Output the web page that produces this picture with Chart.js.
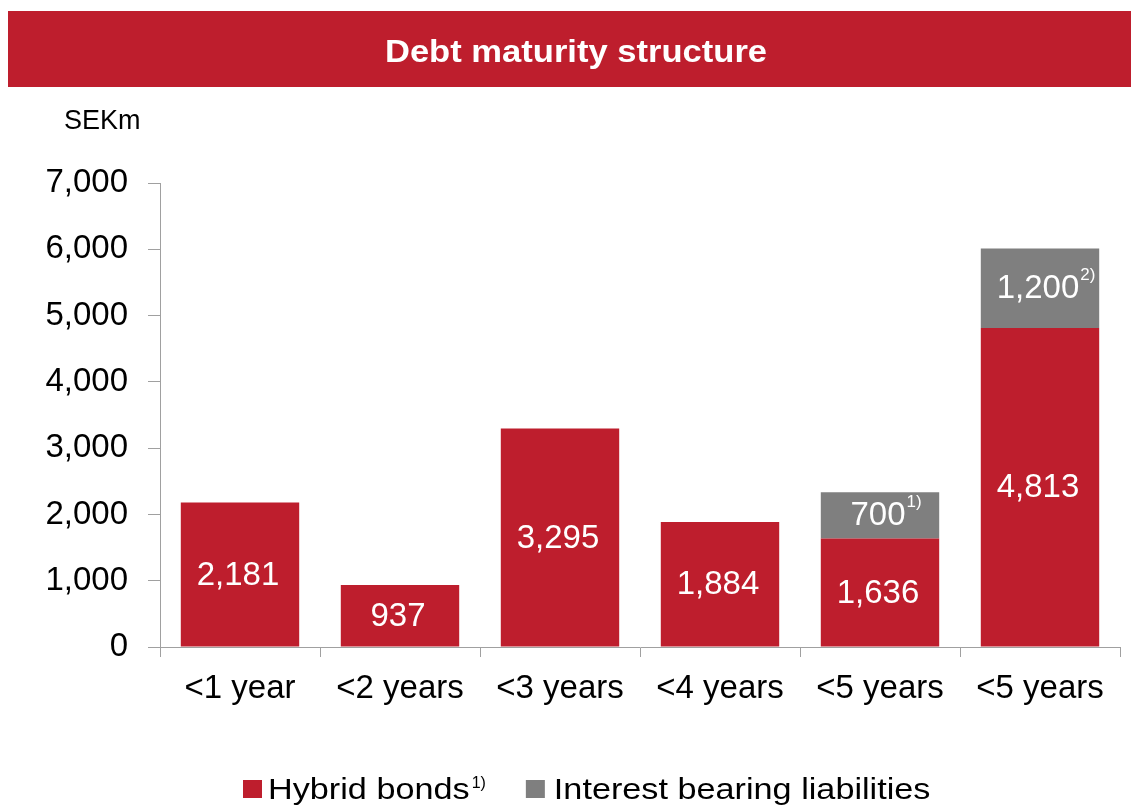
<!DOCTYPE html>
<html>
<head>
<meta charset="utf-8">
<script src="https://cdn.jsdelivr.net/npm/chart.js@4"></script>
<style>
  html, body { margin: 0; padding: 0; background: #ffffff; }
  #wrap { position: relative; width: 1131px; height: 805px; }
</style>
</head>
<body>
<div id="wrap"><canvas id="c" width="1131" height="805"></canvas></div>
<script>
// Debt maturity structure, SEKm
const chartTitle = 'Debt maturity structure';
const unitLabel = 'SEKm';
const categories = ['<1 year', '<2 years', '<3 years', '<4 years', '<5 years', '<5 years'];
const hybridBonds = [2181, 937, 3295, 1884, 1636, 4813];
const interestBearing = [null, null, null, null, 700, 1200];
const hybridNotes = [null, null, null, null, null, null];
const interestNotes = [null, null, null, null, '1)', '2)'];
const yTickValues = [0, 1000, 2000, 3000, 4000, 5000, 6000, 7000];
const seriesNames = ['Hybrid bonds', 'Interest bearing liabilities'];
const seriesNotes = ['1)', null];

const RED = '#BE1E2D';
const GREY = '#7F7F7F';
const AXIS = '#A0A0A0';
const FONT = '"Liberation Sans", Arial, Helvetica, sans-serif';

// Red title band across the top, plus the unit caption above the axis
const headerPlugin = {
  id: 'header',
  beforeDraw(chart) {
    const ctx = chart.ctx;
    ctx.save();
    ctx.fillStyle = RED;
    ctx.fillRect(8, 11, 1123, 76);
    ctx.fillStyle = '#ffffff';
    ctx.font = 'bold 32px ' + FONT;
    ctx.textAlign = 'center';
    ctx.textBaseline = 'alphabetic';
    ctx.translate(576, 62);
    ctx.scale(1.08, 1);
    ctx.fillText(chartTitle, 0, 0);
    ctx.restore();

    ctx.save();
    ctx.fillStyle = '#000000';
    ctx.font = '27px ' + FONT;
    ctx.textAlign = 'left';
    ctx.textBaseline = 'alphabetic';
    ctx.fillText(unitLabel, 64, 129);
    ctx.restore();
  }
};

// White value labels centred in each bar segment, with footnote markers
const valueLabelPlugin = {
  id: 'valueLabels',
  afterDatasetsDraw(chart) {
    const ctx = chart.ctx;
    const notes = [hybridNotes, interestNotes];
    chart.data.datasets.forEach((ds, di) => {
      const meta = chart.getDatasetMeta(di);
      meta.data.forEach((bar, i) => {
        const v = ds.data[i];
        if (v == null) return;
        const p = bar.getProps(['x', 'y', 'base'], true);
        const cy = (p.y + p.base) / 2;
        const txt = v.toLocaleString('en-US');
        ctx.save();
        ctx.fillStyle = '#ffffff';
        ctx.font = '33px ' + FONT;
        ctx.textAlign = 'center';
        ctx.textBaseline = 'middle';
        ctx.fillText(txt, p.x - 2, cy + 1);
        const note = notes[di][i];
        if (note) {
          const w = ctx.measureText(txt).width;
          ctx.font = '17px ' + FONT;
          ctx.textAlign = 'left';
          ctx.textBaseline = 'alphabetic';
          ctx.fillText(note, p.x - 2 + w / 2 + 1, cy - 8);
        }
        ctx.restore();
      });
    });
  }
};

// Legend row under the category labels
const legendPlugin = {
  id: 'bottomLegend',
  afterDraw(chart) {
    const ctx = chart.ctx;
    const colors = [RED, GREY];
    const stretch = 1.18;
    let x = 243;
    ctx.save();
    ctx.textBaseline = 'alphabetic';
    ctx.textAlign = 'left';
    seriesNames.forEach((name, i) => {
      ctx.fillStyle = colors[i];
      ctx.fillRect(x, 780, 19, 18);
      x += 19 + (i === 0 ? 6 : 9);
      ctx.fillStyle = '#000000';
      ctx.font = '29px ' + FONT;
      const w = ctx.measureText(name).width * stretch;
      ctx.save();
      ctx.translate(x, 799);
      ctx.scale(stretch, 1);
      ctx.fillText(name, 0, 0);
      ctx.restore();
      x += w;
      if (seriesNotes[i]) {
        ctx.font = '16px ' + FONT;
        ctx.fillText(seriesNotes[i], x + 2, 788);
        x += ctx.measureText(seriesNotes[i]).width + 2;
      }
      x += 40;
    });
    ctx.restore();
  }
};

new Chart(document.getElementById('c'), {
  type: 'bar',
  data: {
    labels: categories,
    datasets: [
      { label: seriesNames[0], data: hybridBonds, backgroundColor: RED, borderWidth: 0,
        barPercentage: 0.74, categoryPercentage: 1.0 },
      { label: seriesNames[1], data: interestBearing, backgroundColor: GREY, borderWidth: 0,
        barPercentage: 0.74, categoryPercentage: 1.0 }
    ]
  },
  options: {
    responsive: false,
    devicePixelRatio: 1,
    animation: false,
    locale: 'en-US',
    layout: { padding: { top: 183, right: 11, bottom: 100, left: 0 } },
    plugins: {
      legend: { display: false },
      title: { display: false },
      tooltip: { enabled: false }
    },
    scales: {
      x: {
        stacked: true,
        offset: true,
        grid: { display: true, drawOnChartArea: false, drawTicks: true, tickLength: 10, color: AXIS, offset: true },
        border: { display: true, color: AXIS, width: 1 },
        ticks: { color: '#000000', font: { family: FONT, size: 33 }, padding: 12, maxRotation: 0, autoSkip: false },
        afterFit(scale) { scale.height = 58; }
      },
      y: {
        stacked: true,
        min: 0,
        max: 7000,
        afterBuildTicks(scale) { scale.ticks = yTickValues.map(v => ({ value: v })); },
        grid: { display: true, drawOnChartArea: false, drawTicks: true, tickLength: 12, color: AXIS },
        border: { display: true, color: AXIS, width: 1 },
        ticks: { color: '#000000', font: { family: FONT, size: 33 }, padding: 20,
                 callback: (v) => Number(v).toLocaleString('en-US') },
        afterFit(scale) { scale.width = 160; }
      }
    }
  },
  plugins: [headerPlugin, valueLabelPlugin, legendPlugin]
});
</script>
</body>
</html>
